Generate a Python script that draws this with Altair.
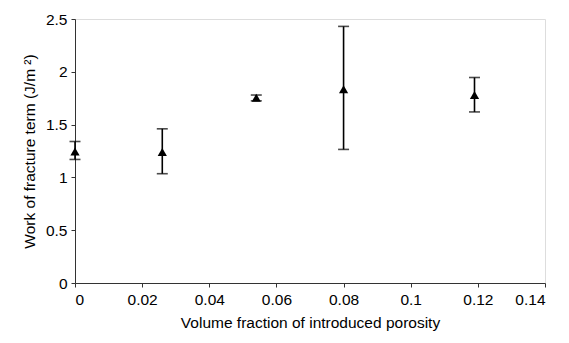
import altair as alt
import pandas as pd

porosity = [0.0, 0.026, 0.054, 0.080, 0.119]
wof = [1.245, 1.24, 1.755, 1.835, 1.78]
err_low = [1.17, 1.035, 1.725, 1.265, 1.62]
err_high = [1.34, 1.46, 1.78, 2.43, 1.946]

df = pd.DataFrame({"x": porosity, "y": wof, "lo": err_low, "hi": err_high})

FONT = "Liberation Sans"
FS = 15.5

xscale = alt.Scale(domain=[0, 0.14], nice=False, zero=False)
yscale = alt.Scale(domain=[0, 2.5], nice=False)

xaxis = alt.Axis(title="Volume fraction of introduced porosity",
                 values=[0, 0.02, 0.04, 0.06, 0.08, 0.1, 0.12, 0.14],
                 format="~g", grid=False, tickSize=4, tickColor="#333",
                 domainColor="#333", labelFont=FONT, labelFontSize=FS,
                 labelColor="black", labelPadding=5, titleFont=FONT,
                 titleFontSize=FS, titleFontWeight="normal", titleColor="black",
                 titlePadding=8)
yaxis = alt.Axis(title="Work of fracture term (J/m ²)",
                 values=[0, 0.5, 1, 1.5, 2, 2.5], format="~g",
                 grid=False, tickSize=4, tickColor="#333", domainColor="#333",
                 labelFont=FONT, labelFontSize=FS, labelColor="black",
                 labelPadding=4, titleFont=FONT, titleFontSize=FS,
                 titleFontWeight="normal", titleColor="black", titlePadding=8)

base = alt.Chart(df)

rules = base.mark_rule(color="black", strokeWidth=1.6).encode(
    x=alt.X("x:Q", scale=xscale, axis=xaxis),
    y=alt.Y("lo:Q", scale=yscale, axis=yaxis),
    y2="hi:Q",
)
cap_lo = base.mark_tick(color="black", orient="horizontal", size=11, thickness=1.6).encode(
    x=alt.X("x:Q", scale=xscale), y=alt.Y("lo:Q", scale=yscale))
cap_hi = base.mark_tick(color="black", orient="horizontal", size=11, thickness=1.6).encode(
    x=alt.X("x:Q", scale=xscale), y=alt.Y("hi:Q", scale=yscale))
pts = base.mark_point(shape="triangle-up", filled=True, color="black", size=85, opacity=1).encode(
    x=alt.X("x:Q", scale=xscale), y=alt.Y("y:Q", scale=yscale))

chart = alt.layer(rules, cap_lo, cap_hi, pts).properties(
    width=470, height=264,
    autosize=alt.AutoSizeParams(type="none"),
    padding={"left": 67, "top": 11, "right": 16, "bottom": 51},
).configure_view(stroke=None).configure(background="white")

chart.save("out.html", embed_options={"renderer": "svg", "actions": False})
